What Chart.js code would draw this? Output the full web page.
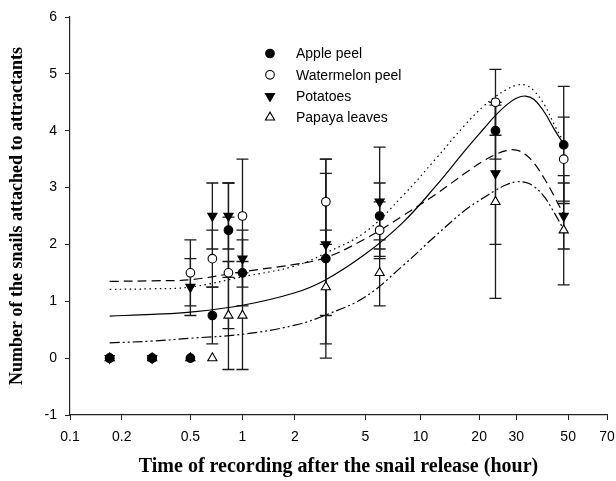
<!DOCTYPE html>
<html>
<head>
<meta charset="utf-8">
<script src="https://cdn.jsdelivr.net/npm/chart.js@4.4.1/dist/chart.umd.min.js"></script>
<style>
html, body { margin: 0; padding: 0; background: #fff; }
</style>
</head>
<body>
<canvas id="snailChart" width="616" height="481"></canvas>
<script>
// hours after release
const hours = [0.17, 0.3, 0.5, 0.67, 0.83, 1, 3, 6, 24, 48];

const applePeel = [0, 0, 0, 0.75, 2.25, 1.5, 1.75, 2.5, 4.0, 3.75];
const applePeelErr = [0, 0, 0, 0.5, 0.83, 0.58, 1.75, 0.58, 0.5, 1.03];
const watermelonPeel = [0, 0, 1.5, 1.75, 1.5, 2.5, 2.75, 2.25, 4.5, 3.5];
const watermelonPeelErr = [0, 0, 0.58, 0.5, 0.98, 1.0, 0.75, 0.5, 0.58, 0.74];
const potatoes = [0, 0, 1.25, 2.5, 2.5, 1.75, 2.0, 2.75, 3.25, 2.5];
const potatoesErr = [0, 0, 0.5, 0.58, 0.58, 0.5, 1.25, 0.96, 1.25, 0.58];
const papayaLeaves = [0, 0, 0, 0, 0.75, 0.75, 1.25, 1.5, 2.75, 2.25];
const papayaLeavesErr = [0, 0, 0, 0, 0.95, 0.95, 1.0, 0.58, 1.7, 0.96];

// fitted curves
const fitHours = [0.17, 0.3, 0.5, 1, 2, 3, 5, 8, 12, 17, 21, 24, 27, 30, 33, 36, 40, 44, 48];
const appleFit = [0.74, 0.77, 0.81, 0.93, 1.15, 1.38, 1.83, 2.38, 3.02, 3.65, 4.03, 4.27, 4.45, 4.57, 4.61, 4.55, 4.32, 4.02, 3.76];
const watermelonFit = [1.21, 1.22, 1.25, 1.43, 1.62, 1.85, 2.22, 2.85, 3.5, 4.1, 4.43, 4.6, 4.72, 4.8, 4.8, 4.7, 4.45, 4.1, 3.8];
const potatoesFit = [1.35, 1.36, 1.38, 1.52, 1.65, 1.77, 2.1, 2.5, 2.88, 3.25, 3.47, 3.58, 3.65, 3.66, 3.58, 3.43, 3.15, 2.84, 2.52];
const papayaFit = [0.27, 0.3, 0.35, 0.42, 0.58, 0.76, 1.08, 1.62, 2.15, 2.6, 2.82, 2.95, 3.05, 3.1, 3.09, 3.02, 2.83, 2.55, 2.26];

const xTicks = [0.1, 0.2, 0.5, 1, 2, 5, 10, 20, 30, 50, 70];
const yTicks = [-1, 0, 1, 2, 3, 4, 5, 6];
const seriesNames = ['Apple peel', 'Watermelon peel', 'Potatoes', 'Papaya leaves'];

// the original x axis is a log axis that stretches past ~10 h
const stretch = 0.004;
function warp(h) { return Math.log10(h) + stretch * h; }
function unwarp(u) {
  let h = Math.pow(10, u);
  for (let i = 0; i < 30; i++) {
    const f = warp(h) - u;
    const d = 1 / (h * Math.LN10) + stretch;
    h = Math.max(1e-6, h - f / d);
  }
  return h;
}

class HourScale extends Chart.Scale {
  static id = 'hourScale';
  static defaults = {};
  determineDataLimits() {
    this.min = this.options.min;
    this.max = this.options.max;
  }
  buildTicks() {
    return xTicks.map(v => ({ value: v }));
  }
  getLabelForValue(v) { return String(v); }
  configure() {
    super.configure();
    this._u0 = warp(this.min);
    this._u1 = warp(this.max);
  }
  getPixelForValue(v) {
    return this.getPixelForDecimal((warp(v) - this._u0) / (this._u1 - this._u0));
  }
  getValueForPixel(p) {
    return unwarp(this._u0 + this.getDecimalForPixel(p) * (this._u1 - this._u0));
  }
}
Chart.register(HourScale);

const toPts = (xs, ys) => xs.map((x, i) => ({ x: x, y: ys[i] }));
const errs = [applePeelErr, watermelonPeelErr, potatoesErr, papayaLeavesErr];

const errorBars = {
  id: 'errorBars',
  beforeDatasetsDraw(chart) {
    const { ctx, scales: { x, y } } = chart;
    ctx.save();
    ctx.strokeStyle = '#1a1a1a';
    ctx.lineWidth = 1.3;
    for (let s = 0; s < 4; s++) {
      const vals = chart.data.datasets[s].data;
      vals.forEach((p, i) => {
        const e = errs[s][i];
        if (!e) return;
        const px = x.getPixelForValue(p.x);
        const top = y.getPixelForValue(p.y + e);
        const bot = y.getPixelForValue(p.y - e);
        ctx.beginPath();
        ctx.moveTo(px, top); ctx.lineTo(px, bot);
        ctx.moveTo(px - 6, top); ctx.lineTo(px + 6, top);
        ctx.moveTo(px - 6, bot); ctx.lineTo(px + 6, bot);
        ctx.stroke();
      });
    }
    ctx.restore();
  }
};

const innerLegend = {
  id: 'innerLegend',
  afterDraw(chart) {
    const { ctx, chartArea } = chart;
    const x0 = chartArea.left + 200;
    const y0 = chartArea.top + 36.5;
    ctx.save();
    ctx.font = '14px "Liberation Sans", Arial, sans-serif';
    ctx.textBaseline = 'middle';
    for (let s = 0; s < 4; s++) {
      const ds = chart.data.datasets[s];
      const yy = y0 + s * 21.3;
      ctx.fillStyle = ds.backgroundColor;
      ctx.strokeStyle = ds.borderColor;
      ctx.lineWidth = ds.borderWidth;
      Chart.helpers.drawPoint(ctx, {
        pointStyle: ds.pointStyle, radius: ds.pointRadius,
        rotation: ds.pointRotation || 0, borderWidth: ds.borderWidth
      }, x0, yy);
      ctx.fillStyle = '#000';
      ctx.fillText(seriesNames[s], x0 + 26, yy + 1);
    }
    ctx.restore();
  }
};

const markers = [
  { pointStyle: 'circle', pointRadius: 4.3, backgroundColor: '#000', rot: 0 },
  { pointStyle: 'circle', pointRadius: 4.3, backgroundColor: '#fff', rot: 0 },
  { pointStyle: 'triangle', pointRadius: 5.3, backgroundColor: '#000', rot: 180 },
  { pointStyle: 'triangle', pointRadius: 5.3, backgroundColor: '#fff', rot: 0 }
];
const seriesVals = [applePeel, watermelonPeel, potatoes, papayaLeaves];
const fitVals = [appleFit, watermelonFit, potatoesFit, papayaFit];
const dashes = [[], [1.5, 3.5], [9, 5], [10, 3, 2, 3, 2, 3]];

const datasets = [];
seriesVals.forEach((vals, s) => {
  datasets.push({
    type: 'scatter',
    label: seriesNames[s],
    data: toPts(hours, vals),
    pointStyle: markers[s].pointStyle,
    pointRadius: markers[s].pointRadius,
    pointRotation: markers[s].rot,
    backgroundColor: markers[s].backgroundColor,
    borderColor: '#000',
    borderWidth: 1.1
  });
});
fitVals.forEach((vals, s) => {
  datasets.push({
    type: 'line',
    label: seriesNames[s] + ' fit',
    data: toPts(fitHours, vals),
    borderColor: '#000',
    borderWidth: 1.2,
    borderDash: dashes[s],
    pointRadius: 0,
    fill: false,
    tension: 0.4
  });
});

const tickFont = { family: '"Liberation Sans", Arial, sans-serif', size: 14 };
const serif = '"Liberation Serif", "Times New Roman", serif';

new Chart(document.getElementById('snailChart'), {
  type: 'scatter',
  data: { datasets: datasets },
  options: {
    responsive: false,
    animation: false,
    layout: { padding: { left: 0, right: 9, top: 17, bottom: 0 } },
    plugins: {
      legend: { display: false },
      tooltip: { enabled: false }
    },
    scales: {
      x: {
        type: 'hourScale',
        position: 'bottom',
        min: 0.1,
        max: 70,
        afterFit(scale) {
          scale.height = 66;
          scale.paddingLeft = 0;
          scale.paddingRight = 0;
        },
        border: { display: true, color: '#222', width: 1.2 },
        grid: { display: true, drawOnChartArea: false, drawTicks: true, tickLength: 5, color: '#222' },
        ticks: { autoSkip: false, maxRotation: 0, padding: 9, color: '#000', font: tickFont },
        title: {
          display: true,
          text: 'Time of recording after the snail release (hour)',
          color: '#000',
          font: { family: serif, size: 20, weight: 'bold' },
          padding: { top: 2, bottom: 2 }
        }
      },
      y: {
        type: 'linear',
        min: -1,
        max: 6,
        afterFit(scale) {
          scale.width = 70;
          scale.paddingTop = 0;
          scale.paddingBottom = 0;
        },
        afterBuildTicks(scale) { scale.ticks = yTicks.map(v => ({ value: v })); },
        border: { display: true, color: '#222', width: 1.2 },
        grid: { display: true, drawOnChartArea: false, drawTicks: true, tickLength: 5, color: '#222' },
        ticks: { padding: 8, color: '#000', font: tickFont },
        title: {
          display: true,
          text: 'Number of the snails attached to attractants',
          color: '#000',
          font: { family: serif, size: 18, weight: 'bold' },
          padding: { top: 7, bottom: 4 }
        }
      }
    }
  },
  plugins: [errorBars, innerLegend]
});
</script>
</body>
</html>
